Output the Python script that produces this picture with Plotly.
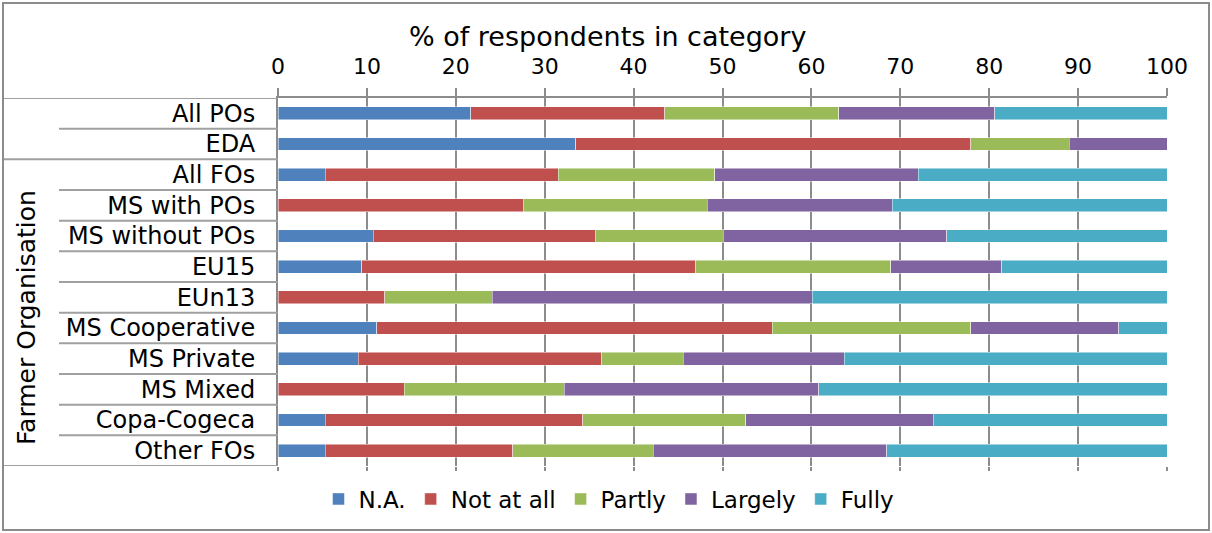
import plotly.graph_objects as go

# Survey answers: share of respondents per category (%)
categories = ["All POs", "EDA", "All FOs", "MS with POs", "MS without POs", "EU15",
              "EUn13", "MS Cooperative", "MS Private", "MS Mixed", "Copa-Cogeca", "Other FOs"]

series_names = ["N.A.", "Not at all", "Partly", "Largely", "Fully"]
na = [21.7, 33.5, 5.3, 0.0, 10.7, 9.4, 0.0, 11.1, 9.0, 0.0, 5.3, 5.3]
not_at_all = [21.8, 44.4, 26.2, 27.6, 25.0, 37.6, 12.0, 44.5, 27.4, 14.2, 29.0, 21.1]
partly = [19.6, 11.1, 17.6, 20.7, 14.4, 21.9, 12.1, 22.3, 9.2, 18.0, 18.3, 15.8]
largely = [17.5, 11.0, 22.9, 20.8, 25.1, 12.5, 36.0, 16.7, 18.1, 28.6, 21.1, 26.3]
fully = [19.4, 0.0, 28.0, 30.9, 24.8, 18.6, 39.9, 5.4, 36.3, 39.2, 26.3, 31.5]

x_ticks = list(range(0, 101, 10))
group_label = "Farmer Organisation"
axis_title = "% of respondents in category"

colors = ["#4F81BD", "#C0504D", "#9BBB59", "#8064A2", "#4BACC6"]
FONT = "DejaVu Sans"
GRID = "#8c8c8c"

W, H = 1212, 533
L, R, T, B = 278, 45, 98, 67
pw, ph = W - L - R, H - T - B


def px_x(p):
    return (p - L) / pw


def px_y(p):
    return (H - B - p) / ph


fig = go.Figure()
for name, vals, col in zip(series_names, [na, not_at_all, partly, largely, fully], colors):
    fig.add_trace(go.Bar(
        y=categories, x=vals, name=name, orientation="h",
        marker=dict(color=col, line=dict(color="rgba(255,255,255,0.6)", width=0.8)),
    ))

# invisible carrier trace for the bottom tick marks
fig.add_trace(go.Scatter(x=[0, 100], y=[categories[0], categories[0]], xaxis="x2",
                         mode="markers", marker=dict(opacity=0), showlegend=False,
                         hoverinfo="skip"))

shapes = []
n = len(categories)
# separators between category labels
for k in range(n + 1):
    yv = k - 0.5
    x0 = px_x(3) if k in (0, 2, n) else px_x(59)
    shapes.append(dict(type="line", xref="paper", yref="y", x0=x0, x1=0, y0=yv, y1=yv,
                       line=dict(color="#a0a0a0", width=2)))
# chart border
shapes.append(dict(type="rect", xref="paper", yref="paper",
                   x0=px_x(3), x1=px_x(1209), y0=px_y(530), y1=px_y(3),
                   line=dict(color="#8c8c8c", width=2)))

annotations = [
    dict(text=axis_title, xref="paper", yref="paper", x=px_x(607), y=px_y(36),
         showarrow=False, font=dict(family=FONT, size=27, color="black"),
         xanchor="center", yanchor="middle"),
    dict(text=group_label, xref="paper", yref="paper", x=px_x(26), y=px_y(318),
         showarrow=False, textangle=-90, font=dict(family=FONT, size=25, color="black"),
         xanchor="center", yanchor="middle"),
]

fig.update_layout(
    width=W, height=H, margin=dict(l=L, r=R, t=T, b=B, autoexpand=False),
    barmode="stack", bargap=0.58,
    paper_bgcolor="white", plot_bgcolor="white",
    font=dict(family=FONT, size=23, color="black"),
    shapes=shapes, annotations=annotations,
    legend=dict(orientation="h", x=px_x(609), y=px_y(499), xanchor="center", yanchor="middle",
                font=dict(family=FONT, size=23, color="black"), traceorder="normal",
                itemwidth=30),
    xaxis=dict(side="top", range=[0, 100], tickvals=x_ticks, showgrid=True,
               gridcolor=GRID, gridwidth=1.5, zeroline=False, showline=True,
               linecolor=GRID, linewidth=2, ticks="outside", ticklen=8, tickcolor=GRID,
               tickwidth=1.5, tickfont=dict(family=FONT, size=22, color="black"),
               ticklabelstandoff=5, fixedrange=True),
    xaxis2=dict(overlaying="x", side="bottom", range=[0, 100], tickvals=x_ticks,
                showticklabels=False, showgrid=False, zeroline=False, showline=False,
                ticks="outside", ticklen=4, tickcolor=GRID, tickwidth=1.5),
    yaxis=dict(range=[n - 0.5, -0.5], autorange=False, showline=True, linecolor=GRID,
               linewidth=2, ticks="", showgrid=False,
               tickfont=dict(family=FONT, size=24, color="black"),
               ticklabelstandoff=16),
)

fig.write_html("out.html")
